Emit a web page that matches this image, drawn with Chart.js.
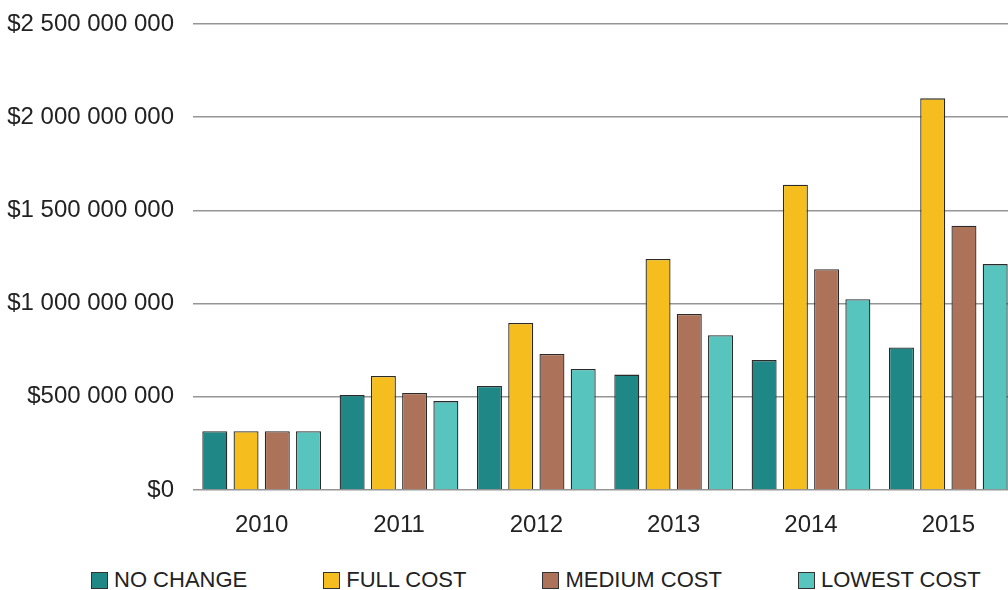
<!DOCTYPE html>
<html>
<head>
<meta charset="utf-8">
<script src="https://cdn.jsdelivr.net/npm/chart.js@4.4.0/dist/chart.umd.min.js"></script>
<style>
  html, body { margin: 0; padding: 0; background: #fff; overflow: hidden; width: 1008px; height: 590px; }
  #wrap { position: absolute; left: 0; top: 0; width: 1030px; height: 536px; }
  #legend { position: absolute; left: 91px; top: 567px; display: flex; gap: 76px;
            font-family: "Liberation Sans", Arial, sans-serif; font-size: 22px; color: #222;
            white-space: nowrap; }
  #legend .item { display: flex; align-items: center; }
  #legend .box { width: 15px; height: 15px; border: 1px solid #333; margin-right: 6px; }
</style>
</head>
<body>
<div id="wrap"><canvas id="barchart"></canvas></div>
<div id="legend"></div>
<script>
var years = ['2010', '2011', '2012', '2013', '2014', '2015'];
var noChange = [315e6, 510e6, 558e6, 619e6, 697e6, 765e6];
var fullCost = [315e6, 612e6, 896e6, 1239e6, 1638e6, 2101e6];
var mediumCost = [315e6, 520e6, 730e6, 944e6, 1184e6, 1418e6];
var lowestCost = [315e6, 477e6, 649e6, 830e6, 1023e6, 1212e6];
var seriesNames = ['NO CHANGE', 'FULL COST', 'MEDIUM COST', 'LOWEST COST'];
var seriesColors = ['#1f8785', '#f5be1e', '#ad735a', '#57c4be'];

var font = "'Liberation Sans', Arial, sans-serif";

function money(v) {
    return '$' + String(v).replace(/\B(?=(\d{3})+(?!\d))/g, ' ');
}

function makeSet(i, values) {
    return {
        label: seriesNames[i],
        data: values,
        backgroundColor: seriesColors[i],
        borderColor: '#2a2a2a',
        borderWidth: 1.3,
        categoryPercentage: 0.91,
        barPercentage: 0.8
    };
}

var ctx = document.getElementById('barchart');
var chart = new Chart(ctx, {
    type: 'bar',
    data: {
        labels: years,
        datasets: [
            makeSet(0, noChange),
            makeSet(1, fullCost),
            makeSet(2, mediumCost),
            makeSet(3, lowestCost)
        ]
    },
    options: {
        responsive: true,
        maintainAspectRatio: false,
        animation: false,
        layout: { padding: { top: 24, right: 13, left: 0, bottom: 0 } },
        plugins: {
            legend: { display: false },
            tooltip: { enabled: false }
        },
        scales: {
            x: {
                grid: { display: false },
                border: { display: false },
                ticks: { color: '#222', font: { family: font, size: 24 }, padding: 13 },
                afterFit: function(scale) { scale.height = 46; }
            },
            y: {
                min: 0,
                max: 2500000000,
                grid: { color: '#959595', lineWidth: 1.5, drawTicks: false },
                border: { display: false },
                ticks: {
                    stepSize: 500000000,
                    color: '#222',
                    padding: 19,
                    font: { family: font, size: 24 },
                    callback: function(v) { return money(v); }
                },
                afterFit: function(scale) {
                    scale.width = 193;
                    scale.paddingTop = 12;
                    scale.paddingBottom = 0;
                }
            }
        }
    }
});

var legend = document.getElementById('legend');
seriesNames.forEach(function(name, i) {
    var item = document.createElement('div');
    item.className = 'item';
    var box = document.createElement('span');
    box.className = 'box';
    box.style.background = seriesColors[i];
    var txt = document.createElement('span');
    txt.textContent = name;
    item.appendChild(box);
    item.appendChild(txt);
    legend.appendChild(item);
});
</script>
</body>
</html>
